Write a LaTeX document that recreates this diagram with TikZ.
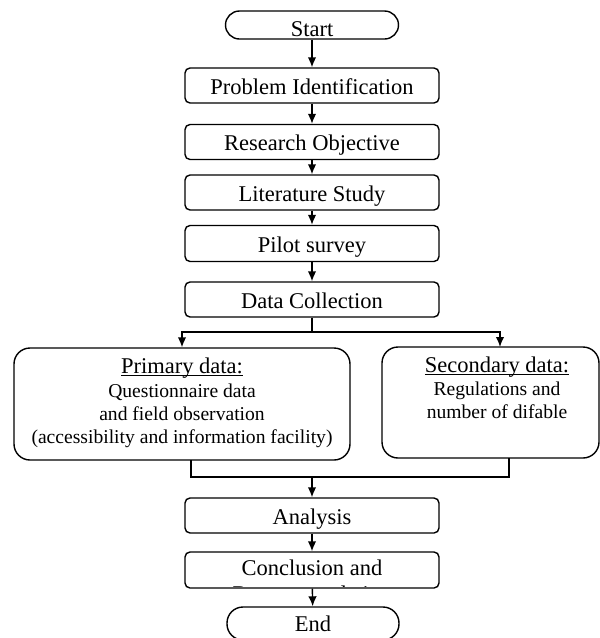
\documentclass[tikz,border=0pt]{standalone}
\usepackage{fontspec}
\setmainfont{Liberation Serif}
\usetikzlibrary{arrows.meta}
\newcommand\ulx[1]{\setbox0\hbox{#1}\rlap{\rule[-2.8pt]{\wd0}{1.3pt}}\box0}
\begin{document}
\begin{tikzpicture}[x=1pt,y=-1pt,
  line width=1.4pt,
  mainfont/.style={font=\fontsize{22.5}{25.5}\selectfont},
  proc/.style={draw, rounded corners=5pt, minimum width=254pt, minimum height=35pt,
    inner sep=0pt, mainfont, text height=17pt, text depth=0pt},
  term/.style={draw, rounded corners=14pt, minimum width=173pt, minimum height=28pt,
    inner sep=0pt, mainfont},
  subbox/.style={draw, rounded corners=16pt, inner sep=0pt},
  headtxt/.style={anchor=base, inner sep=0pt, mainfont},
  bodytxt/.style={anchor=base, inner sep=0pt, font=\fontsize{19.6}{23}\selectfont},
  arr/.style={-{Latex[length=10pt,width=8.5pt]}},
]
\useasboundingbox (0,0) rectangle (600,638);

\node[term, text height=23pt, text depth=0pt] (start) at (312,25) {Start};
\node[proc] (prob) at (312,85.5) {Problem Identification};
\node[proc] (res) at (312,142) {Research Objective};
\node[proc] (lit) at (312,192.5) {Literature Study};
\node[proc, minimum height=36pt] (pilot) at (312,243.5) {Pilot survey};
\node[proc] (data) at (312,299.5) {Data Collection};

\node[subbox, minimum width=336pt, minimum height=112pt] (prim) at (182,404) {};
\node[headtxt] (primh) at (182,373) {\ulx{Primary data:}};
\node[bodytxt] (prim1) at (182,397) {Questionnaire data};
\node[bodytxt] (prim2) at (182,420) {and field observation};
\node[bodytxt] (prim3) at (182,443) {(accessibility and information facility)};

\node[subbox, minimum width=217pt, minimum height=111pt] (sec) at (490.5,402.5) {};
\node[headtxt] (sech) at (497,372) {\ulx{Secondary data:}};
\node[bodytxt] (sec1) at (497,395) {Regulations and};
\node[bodytxt] (sec2) at (497,418) {number of difable};

\node[proc] (ana) at (312,515.5) {Analysis};
\begin{scope}
  \clip (185,552) rectangle (439,586.6);
  \node[headtxt] (concl1) at (312,575) {Conclusion and};
  \node[headtxt] (concl2) at (312,601) {Recommendation};
\end{scope}
\node[proc, minimum height=36pt] (concl) at (312,570) {};
\node[term, minimum width=172pt, minimum height=33pt, rounded corners=16pt] (end) at (313,623.5) {End};

\draw[arr] (start) -- (prob);
\draw[arr] (prob) -- (res);
\draw[arr] (res) -- (lit);
\draw[arr] (lit) -- (pilot);
\draw[arr] (pilot) -- (data);

\coordinate (sp) at (312,332);
\coordinate (secin) at (500,347);
\draw (data.south) -- (sp);
\draw[arr] (sp) -| (prim.north);
\draw[arr] (sp) -| (secin);

\coordinate (pout) at (191,460);
\coordinate (sout) at (509,458);
\coordinate (mg) at (312,477);
\draw (pout) |- (mg) -| (sout);
\draw[arr] (mg) -- (ana.north);
\draw[arr] (ana) -- (concl);
\draw[arr] (concl) -- (end);
\end{tikzpicture}
\end{document}
